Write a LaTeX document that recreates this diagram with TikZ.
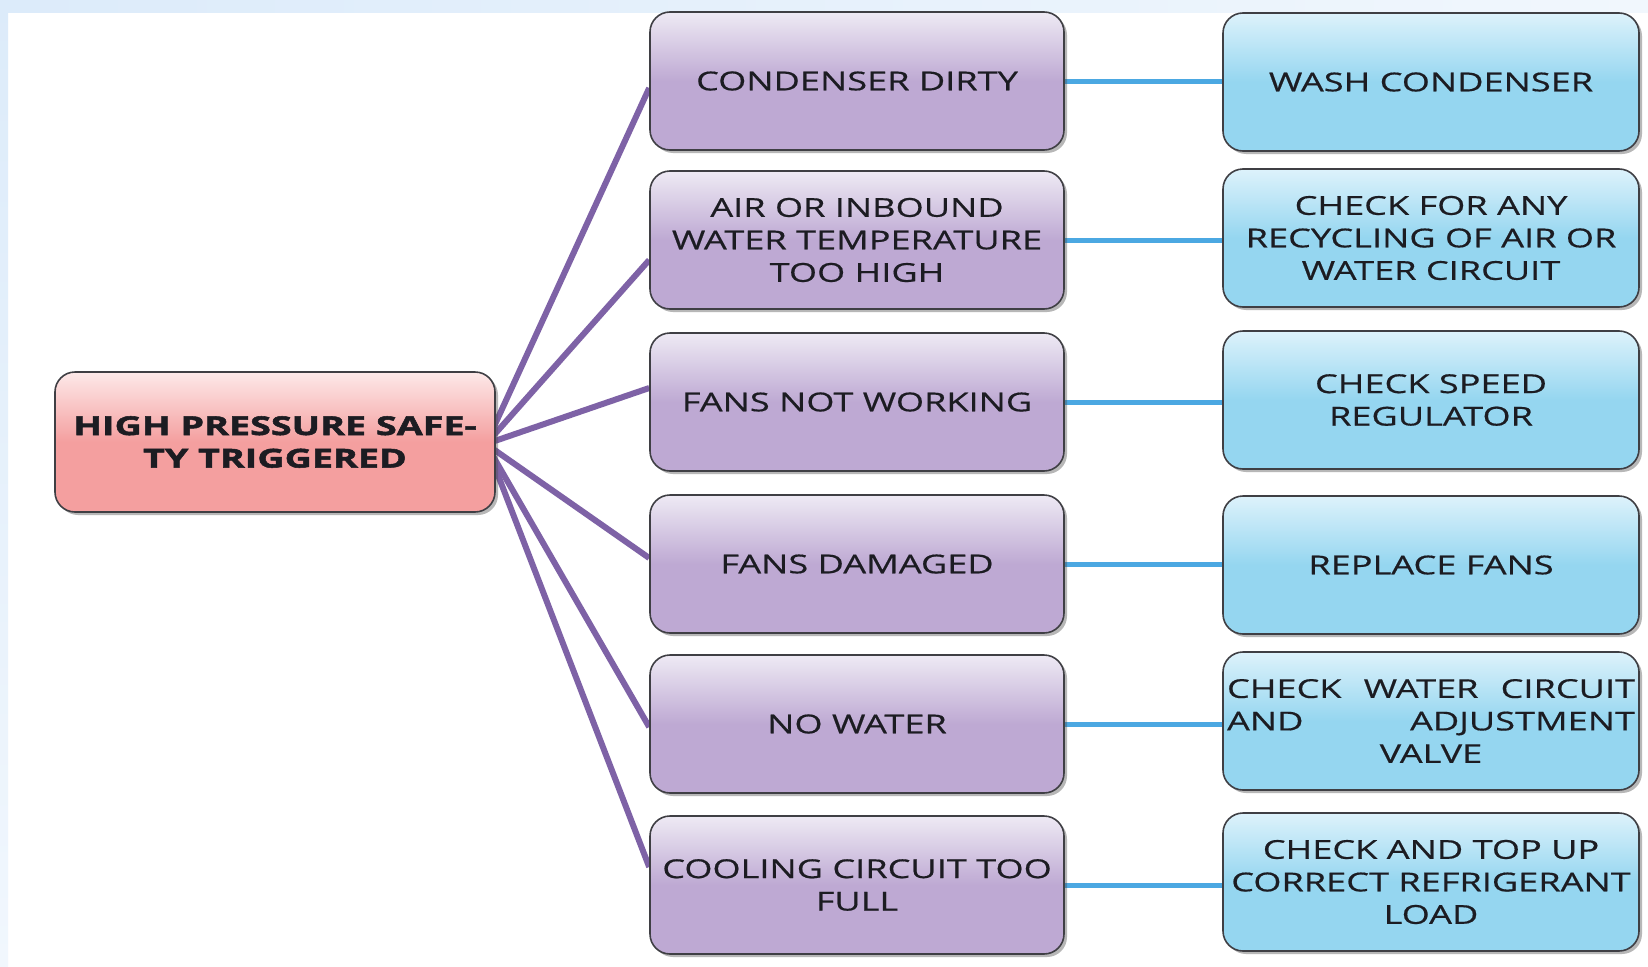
\documentclass[tikz,border=0pt]{standalone}
\usepackage{fontspec}
\setmainfont{Open Sans}[FakeStretch=1.39, FakeBold=0.5, BoldFeatures={FakeStretch=1.45, FakeBold=2}]
\usetikzlibrary{shadows}

\definecolor{edgegray}{HTML}{3F3F44}
\definecolor{txt}{HTML}{1C1C22}
\definecolor{purpleTop}{HTML}{EEEAF4}
\definecolor{purpleBase}{HTML}{BEA9D3}
\definecolor{blueTop}{HTML}{DDF2FB}
\definecolor{blueBase}{HTML}{95D6F0}
\definecolor{redTop}{HTML}{FDE9E9}
\definecolor{redBase}{HTML}{F49F9F}
\definecolor{spoke}{HTML}{7E62A6}
\definecolor{link}{HTML}{4BA8E2}
\definecolor{bandA}{HTML}{DCEBFA}
\definecolor{bandB}{HTML}{F1F7FD}

\pgfdeclarelayer{bg}
\pgfsetlayers{bg,main}

\begin{document}
\begin{tikzpicture}[x=1pt,y=-1pt,
  box/.style={rounded corners=20pt, draw=edgegray, line width=1.6pt,
    minimum height=138pt, align=center, inner sep=2pt, text=txt,
    font=\fontsize{26}{32.5}\selectfont,
    drop shadow={shadow xshift=3pt, shadow yshift=-3pt, opacity=0.4, fill=black!70}},
  cause/.style={box, minimum width=414pt,
    top color=purpleTop, bottom color=purpleBase, middle color=purpleBase},
  remedy/.style={box, minimum width=416pt,
    top color=blueTop, bottom color=blueBase, middle color=blueBase},
  alarm/.style={box, minimum width=440pt, minimum height=140pt,
    top color=redTop, bottom color=redBase, middle color=redBase,
    font=\bfseries\fontsize{26}{32.5}\selectfont},
  spokeline/.style={draw=spoke, line width=6pt},
  linkline/.style={draw=link, line width=5pt}
]
\useasboundingbox (0,0) rectangle (1648,966);

% page backdrop: pale band along the top and left edges
\begin{pgfonlayer}{bg}
  \fill[white] (0,0) rectangle (1648,966);
  \shade[left color=bandA, right color=bandB] (0,0) rectangle (1648,13);
  \shade[top color=bandA, bottom color=bandB] (0,0) rectangle (8,966);
\end{pgfonlayer}

% root
\node[alarm] (alarm) at (275,442) {HIGH PRESSURE SAFE-\\TY TRIGGERED};

% causes
\node[cause] (c1) at (857,81)  {CONDENSER DIRTY};
\node[cause] (c2) at (857,240) {AIR OR INBOUND\\WATER TEMPERATURE\\TOO HIGH};
\node[cause] (c3) at (857,402) {FANS NOT WORKING};
\node[cause] (c4) at (857,564) {FANS DAMAGED};
\node[cause] (c5) at (857,724) {NO WATER};
\node[cause] (c6) at (857,885) {COOLING CIRCUIT TOO\\FULL};

% remedies
\node[remedy] (r1) at (1431,82)  {WASH CONDENSER};
\node[remedy] (r2) at (1431,238) {CHECK FOR ANY\\RECYCLING OF AIR OR\\WATER CIRCUIT};
\node[remedy] (r3) at (1431,400) {CHECK SPEED\\REGULATOR};
\node[remedy] (r4) at (1431,565) {REPLACE FANS};
\node[remedy] (r5) at (1431,721)
  {\makebox[408pt][s]{CHECK WATER CIRCUIT}\\\makebox[408pt][s]{AND ADJUSTMENT}\\VALVE};
\node[remedy] (r6) at (1431,882) {CHECK AND TOP UP\\CORRECT REFRIGERANT\\LOAD};

\coordinate (hub) at (486,444);

\begin{pgfonlayer}{bg}
  \draw[spokeline] (hub) -- ([yshift=-7pt]c1.west);
  \draw[spokeline] (hub) -- ([yshift=-20pt]c2.west);
  \draw[spokeline] (hub) -- ([yshift=14pt]c3.west);
  \draw[spokeline] (hub) -- ([yshift=6pt]c4.west);
  \draw[spokeline] (hub) -- ([yshift=-3pt]c5.west);
  \draw[spokeline] (hub) -- ([yshift=18pt]c6.west);
  \foreach \i in {1,...,6}
    \draw[linkline] (c\i.east) -- (c\i.east -| r\i.west);
\end{pgfonlayer}
\end{tikzpicture}
\end{document}
